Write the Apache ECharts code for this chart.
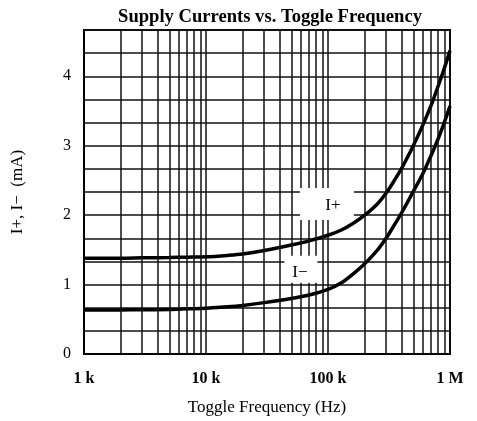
<!DOCTYPE html>
<html><head><meta charset="utf-8">
<script src="https://cdn.jsdelivr.net/npm/echarts@6/dist/echarts.min.js"></script>
<style>html,body{margin:0;padding:0;background:#fff}#c{width:477px;height:421px}</style>
</head><body><div id="c"></div>
<script>
const freqs = [1000, 2000, 3000, 5000, 7000, 10000, 15000, 20000, 30000, 50000, 70000, 100000, 130000, 160000, 200000, 250000, 300000, 350000, 400000, 450000, 500000, 600000, 700000, 800000, 900000, 1000000];
const iPlus = [1.38, 1.38, 1.385, 1.39, 1.395, 1.40, 1.42, 1.44, 1.49, 1.57, 1.63, 1.71, 1.79, 1.88, 2.00, 2.15, 2.32, 2.50, 2.67, 2.84, 3.00, 3.30, 3.58, 3.86, 4.12, 4.37];
const iMinus = [0.635, 0.635, 0.637, 0.64, 0.65, 0.66, 0.68, 0.70, 0.74, 0.80, 0.85, 0.93, 1.03, 1.15, 1.30, 1.48, 1.67, 1.86, 2.03, 2.19, 2.34, 2.60, 2.86, 3.10, 3.34, 3.57];
const xTickValues = [1000, 10000, 100000, 1000000];
const xTickLabels = ['1 k', '10 k', '100 k', '1 M'];
const minorFreqs = [2000,3000,4000,5000,6000,7000,8000,9000,20000,30000,40000,50000,60000,70000,80000,90000,200000,300000,400000,500000,600000,700000,800000,900000];
const labelPlus = {name: 'I+', freq: 98000, value: 2.16};
const labelMinus = {name: 'I\u2212', freq: 60000, value: 1.22};

const font = '"Liberation Serif", "Times New Roman", serif';
const chart = echarts.init(document.getElementById('c'));
const pair = (xs, ys) => xs.map((x, i) => [x, ys[i]]);
const lbl = (l, size, offset) => ({
  coord: [l.freq, l.value], value: l.name,
  symbol: 'rect', symbolSize: size,
  itemStyle: {color: '#fff'},
  label: {show: true, formatter: l.name, color: '#000', fontFamily: font, fontSize: 17, position: 'inside', offset: offset}
});
chart.setOption({
  animation: false,
  title: {text: 'Supply Currents vs. Toggle Frequency', left: 265, top: 3, textAlign: 'center',
    textStyle: {fontFamily: font, fontWeight: 'bold', fontSize: 18.6, color: '#000'}},
  grid: {left: 84, right: 27, top: 30, bottom: 63, show: true, borderColor: '#000', borderWidth: 2, backgroundColor: 'transparent'},
  xAxis: {
    type: 'log', logBase: 10, min: 1000, max: 1000000,
    name: 'Toggle Frequency (Hz)', nameLocation: 'middle', nameGap: 45,
    nameTextStyle: {fontFamily: font, fontSize: 17, color: '#000'},
    axisLine: {lineStyle: {color: '#000', width: 2}},
    axisTick: {show: false},
    axisLabel: {fontFamily: font, fontSize: 16, fontWeight: 'bold', color: '#000', margin: 17,
      formatter: v => { const i = xTickValues.findIndex(t => Math.abs(t - v) / t < 1e-6); return i >= 0 ? xTickLabels[i] : ''; }},
    splitLine: {show: true, lineStyle: {color: '#111', width: 1.5}}
  },
  yAxis: {
    type: 'value', min: 0, max: 14/3, interval: 1/3,
    name: 'I+, I\u2212  (mA)', nameLocation: 'middle', nameGap: 58, nameRotate: 90,
    nameTextStyle: {fontFamily: font, fontSize: 17, color: '#000'},
    axisLine: {lineStyle: {color: '#000', width: 2}},
    axisTick: {show: false},
    axisLabel: {fontFamily: font, fontSize: 16, color: '#000', margin: 13,
      formatter: v => Math.abs(v - Math.round(v)) < 1e-6 ? String(Math.round(v)) : ''},
    splitLine: {show: true, lineStyle: {color: '#111', width: 1.5}}
  },
  series: [
    {type: 'line', data: [], z: 1, silent: true,
      markLine: {silent: true, symbol: ['none', 'none'], label: {show: false},
        lineStyle: {color: '#111', width: 1.5, type: 'solid'},
        data: minorFreqs.map(f => ({xAxis: f}))}},
    {type: 'line', data: [], z: 2, silent: true,
      markPoint: {silent: true, data: [lbl(labelPlus, [54, 32], [6, 1]), lbl(labelMinus, [33, 27], [-1, 3])]}},
    {type: 'line', name: 'I+', data: pair(freqs, iPlus), smooth: 0.3, showSymbol: false, z: 3,
      lineStyle: {color: '#000', width: 3.5}},
    {type: 'line', name: 'I-', data: pair(freqs, iMinus), smooth: 0.3, showSymbol: false, z: 3,
      lineStyle: {color: '#000', width: 3.5}}
  ]
});
</script></body></html>
